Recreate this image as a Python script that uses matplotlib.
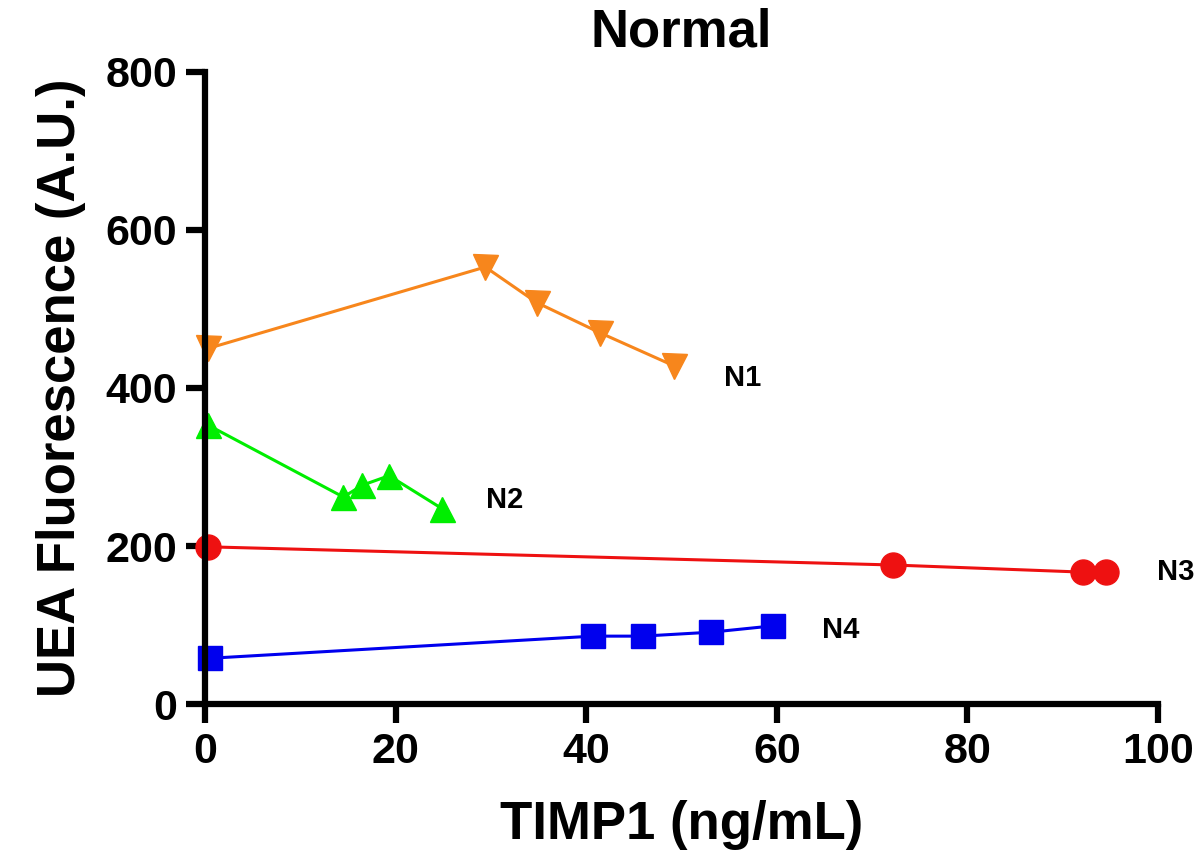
import matplotlib
matplotlib.use("Agg")
import matplotlib.pyplot as plt

plt.rcParams['font.family'] = ['Liberation Sans Narrow', 'Liberation Sans', 'DejaVu Sans']
plt.rcParams['font.weight'] = 'bold'

# data
n1_x = [0.3, 29.4, 34.8, 41.4, 49.2]
n1_y = [450, 553, 508, 470, 428]
n2_x = [0.3, 14.5, 16.5, 19.3, 24.9]
n2_y = [353, 262, 277, 289, 247]
n3_x = [0.3, 72.2, 92.1, 94.5]
n3_y = [199, 176, 167, 167]
n4_x = [0.5, 40.7, 45.9, 53.1, 59.6]
n4_y = [58, 86, 86, 91, 99]

names = ['N1', 'N2', 'N3', 'N4']
label_pos = [(54.5, 413), (29.5, 258), (99.9, 167), (64.7, 94)]

fig = plt.figure(figsize=(12, 8.65), dpi=100)
ax = fig.add_axes([0.171, 0.186, 0.794, 0.731])

ax.plot(n1_x, n1_y, color='#f7861c', lw=2.2, marker='v', ms=18, clip_on=False)
ax.plot(n2_x, n2_y, color='#00ee00', lw=2.2, marker='^', ms=18, clip_on=False)
ax.plot(n3_x, n3_y, color='#ee1111', lw=2.2, marker='o', ms=18, clip_on=False)
ax.plot(n4_x, n4_y, color='#0000ee', lw=2.2, marker='s', ms=17, clip_on=False)

for name, (tx, ty) in zip(names, label_pos):
    ax.text(tx, ty, name, fontsize=21, fontweight='bold', ha='left', va='center')

ax.set_xlim(0, 100)
ax.set_ylim(0, 800)
ax.set_xticks([0, 20, 40, 60, 80, 100])
ax.set_yticks([0, 200, 400, 600, 800])

for s in ['top', 'right']:
    ax.spines[s].set_visible(False)
for s in ['left', 'bottom']:
    ax.spines[s].set_linewidth(4.5)
ax.tick_params(width=4.5, length=14, labelsize=31, pad=6)

ax.set_xlabel('TIMP1 (ng/mL)', fontsize=38, fontweight='bold', labelpad=20)
ax.set_ylabel('UEA Fluorescence (A.U.)', fontsize=38, fontweight='bold', labelpad=14)
ax.set_title('Normal', fontsize=38, fontweight='bold', pad=18)

fig.savefig('out.png', dpi=100)
